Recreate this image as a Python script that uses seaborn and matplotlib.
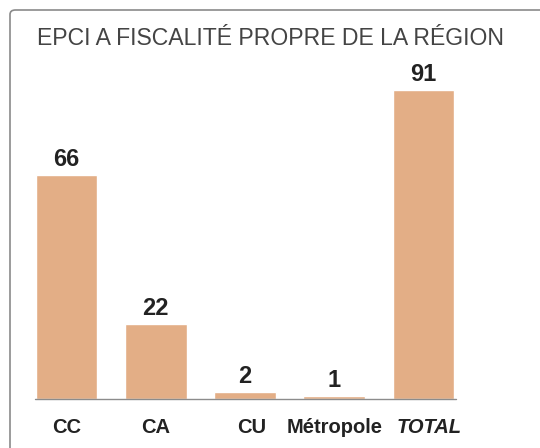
import matplotlib
matplotlib.use("Agg")
import matplotlib.pyplot as plt
import seaborn as sns
import pandas as pd
from matplotlib.patches import FancyBboxPatch

# --- DONNÉES ---
categories = ["CC", "CA", "CU", "Métropole", "TOTAL"]
values = [66, 22, 2, 1, 91]
title = "EPCI A FISCALITÉ PROPRE DE LA RÉGION"

BAR_COLOR = "#E3AE86"
TEXT_COLOR = "#222222"
W, H = 540, 448

sns.set_theme(style="white")
plt.rcParams["font.family"] = ["Liberation Sans", "DejaVu Sans"]

df = pd.DataFrame({"cat": categories, "val": values})

fig = plt.figure(figsize=(W / 100, H / 100), dpi=100)
# axes placées en pixels
left, right = 22 / W, 468 / W
bottom = 49 / H
ymax = 100
height = ymax * 3.396 / H
ax = fig.add_axes([left, bottom, right - left, height])

sns.barplot(data=df, x="cat", y="val", color=BAR_COLOR, width=0.69,
            saturation=1, ax=ax)
ax.set_xlim(-0.5, len(categories) - 0.5)
ax.set_ylim(0, ymax)
ax.set_axis_off()

# ligne de base
ax.plot([-0.5 + 0.15, len(categories) - 0.5 - 0.14], [0, 0],
        color="#8c8c8c", lw=1, clip_on=False)

# valeurs au-dessus des barres
for i, v in enumerate(values):
    ax.annotate(str(v), xy=(i, v), xytext=(0, 6.5), textcoords="offset points",
                ha="center", va="baseline", fontsize=17, fontweight="bold",
                color=TEXT_COLOR, clip_on=False)

# étiquettes (léger décalage comme sur l'original)
nudge = {"CU": 5, "TOTAL": 4}
for i, c in enumerate(categories):
    ax.annotate(c, xy=(i, 0), xytext=(nudge.get(c, 0), -24.5),
                textcoords="offset points",
                ha="center", va="baseline", fontsize=14.5, fontweight="bold",
                fontstyle="italic" if c == "TOTAL" else "normal",
                color=TEXT_COLOR, annotation_clip=False)

# titre
fig.text(37 / W, 1 - 45 / H, title, ha="left", va="baseline",
         fontsize=16.6, color="#444444")

# cadre
frame = FancyBboxPatch((10 / W, -0.1), 1.2, 1 - 10 / H + 0.1,
                       boxstyle="round,pad=0,rounding_size=0.01",
                       transform=fig.transFigure, fill=False,
                       edgecolor="#8a8a8a", lw=1.2)
fig.patches.append(frame)

fig.savefig("out.png", dpi=100)
